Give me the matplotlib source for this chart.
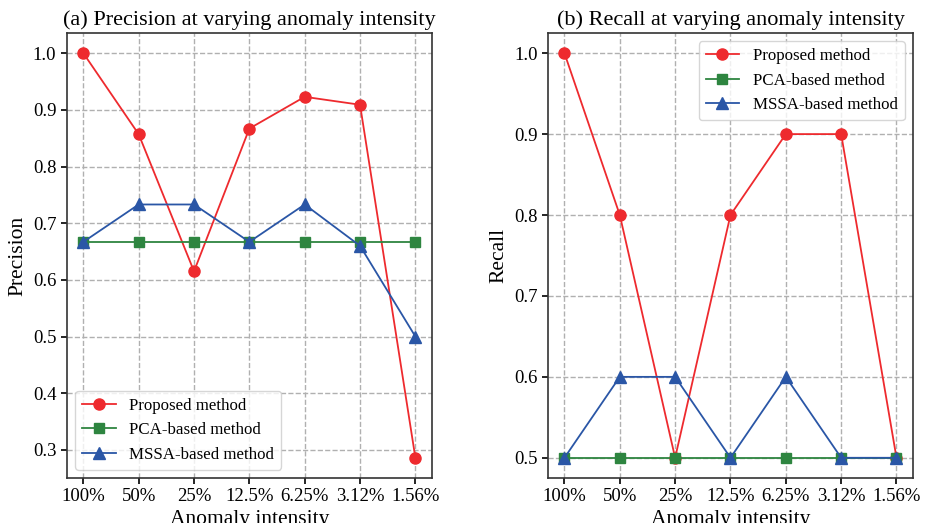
import numpy as np
import matplotlib.pyplot as plt

plt.rcParams['font.family'] = ['Liberation Serif', 'DejaVu Serif']
plt.rcParams['mathtext.fontset'] = 'stix'

# data
intensity = ['100%', '50%', '25%', '12.5%', '6.25%', '3.12%', '1.56%']

prec_proposed = [1.0, 0.857, 0.615, 0.867, 0.923, 0.909, 0.286]
prec_pca = [0.667, 0.667, 0.667, 0.667, 0.667, 0.667, 0.667]
prec_mssa = [0.667, 0.733, 0.733, 0.667, 0.733, 0.66, 0.5]

rec_proposed = [1.0, 0.8, 0.5, 0.8, 0.9, 0.9, 0.5]
rec_pca = [0.5, 0.5, 0.5, 0.5, 0.5, 0.5, 0.5]
rec_mssa = [0.5, 0.6, 0.6, 0.5, 0.6, 0.5, 0.5]

red = '#ee2a2e'
green = '#2e8540'
blue = '#2a56a6'

x = np.arange(len(intensity))

fig = plt.figure(figsize=(9.27, 5.23), dpi=100)
ax1 = fig.add_axes([0.072, 0.086, 0.394, 0.851])
ax2 = fig.add_axes([0.591, 0.086, 0.394, 0.851])

panels = [
    (ax1, prec_proposed, prec_pca, prec_mssa, 'Precision',
     '(a) Precision at varying anomaly intensity', 'lower left'),
    (ax2, rec_proposed, rec_pca, rec_mssa, 'Recall',
     '(b) Recall at varying anomaly intensity', 'upper right'),
]

for ax, p, c, m, ylab, title, loc in panels:
    ax.plot(x, p, color=red, marker='o', markersize=8, lw=1.3, label='Proposed method', zorder=3)
    ax.plot(x, c, color=green, marker='s', markersize=7.5, lw=1.3, label='PCA-based method', zorder=3)
    ax.plot(x, m, color=blue, marker='^', markersize=8, lw=1.3, label='MSSA-based method', zorder=3)
    ax.set_xticks(x)
    ax.set_xticklabels(intensity)
    ax.tick_params(labelsize=13.5, width=1.2, length=4)
    ax.set_xlabel('Anomaly intensity', fontsize=15.5, labelpad=3)
    ax.set_ylabel(ylab, fontsize=15.5)
    ax.set_title(title, fontsize=16, pad=6)
    ax.grid(True, ls='--', color='#b0b0b0', lw=1)
    for s in ax.spines.values():
        s.set_color('#333333')
        s.set_linewidth(1.2)
    ax.legend(loc=loc, fontsize=12.2, framealpha=0.8, edgecolor='#cccccc')

fig.savefig('out.png', dpi=100)
